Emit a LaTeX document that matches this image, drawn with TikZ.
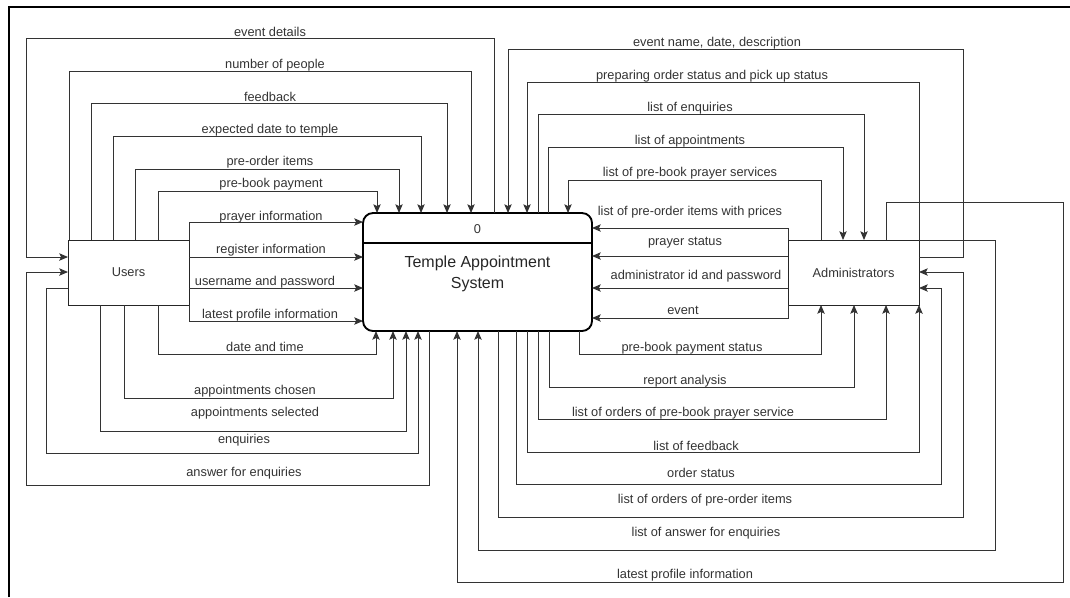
\documentclass[tikz,border=0pt]{standalone}
\usepackage{fontspec}
\setmainfont{Liberation Sans}
\usetikzlibrary{arrows.meta}
\begin{document}
\begin{tikzpicture}[x=0.75pt,y=-0.75pt,
  link/.style={draw=black!80, line width=0.75pt},
  flow/.style={link, -{Stealth[length=6.5pt,width=5.5pt,inset=1.3pt]}},
  lbl/.style={font=\fontsize{9.6}{11}\selectfont, text=black!80, inner sep=0pt},
  entity/.style={draw=black!85, line width=0.75pt, minimum height=48.75pt, inner sep=0pt, outer sep=0pt,
                 font=\fontsize{9.6}{11}\selectfont, text=black!80},
  process/.style={draw=black, line width=1.4pt, rounded corners=7.5pt, minimum width=171.75pt,
                  minimum height=88.5pt, inner sep=0pt, outer sep=0pt}]
\useasboundingbox (0,0) rectangle (1070,597);
% page frame
\draw[line width=1pt] (9,597) -- (9,7) -- (1070,7);

% external entities and the process
\node[entity, minimum width=90.75pt] (users) at (128.5,272.5) {Users};
\node[entity, minimum width=98.25pt] (admin) at (853.5,272.5) {Administrators};
\node[process] (proc) at (477.5,272) {};
\draw[line width=1.4pt] (proc.west |- 0,243) -- (proc.east |- 0,243);
\node[lbl] (pid) at (477.5,229) {0};
\node[font=\fontsize{12}{15.8}\selectfont, align=center, text=black!85, inner sep=0pt] (ptitle) at (477.5,273.5) {Temple Appointment\\System};

% ---- Users side, over the top ----
\draw[flow] (proc.north -| 494,0) |- (26,38) |- (users.west |- 0,257);
\draw[flow] (users.north -| 69,0) |- (471,71) -- (proc.north -| 471,0);
\draw[flow] (users.north -| 91,0) |- (447,103) -- (proc.north -| 447,0);
\draw[flow] (users.north -| 113,0) |- (421,136) -- (proc.north -| 421,0);
\draw[flow] (users.north -| 135,0) |- (399,169) -- (proc.north -| 399,0);
\draw[flow] (users.north -| 158,0) |- (377,191) -- (proc.north -| 377,0);

\node[lbl] (l1) at (270,32) {event details};
\node[lbl] (l2) at (275,65) {number of people};
\node[lbl] (l3) at (270,97) {feedback};
\node[lbl] (l4) at (270,130) {expected date to temple};
\node[lbl] (l5) at (270,162) {pre-order items};
\node[lbl] (l6) at (271,184) {pre-book payment};

% ---- Users side, straight across ----
\draw[flow] (users.north east) |- (proc.west |- 0,222);
\draw[flow] (users.east |- 0,257) -- (proc.west |- 0,257);
\draw[flow] (users.east |- 0,288) -- (proc.west |- 0,288);
\draw[flow] (users.south east) |- (proc.west |- 0,321);

\node[lbl] (l7) at (271,217) {prayer information};
\node[lbl] (l8) at (271,250) {register information};
\node[lbl] (l9) at (265,282) {username and password};
\node[lbl] (l10) at (270,315) {latest profile information};

% ---- Users side, underneath ----
\draw[flow] (users.south -| 158,0) |- (376,354) -- (proc.south -| 376,0);
\draw[flow] (users.south -| 124,0) |- (393,398) -- (proc.south -| 393,0);
\draw[flow] (users.south -| 100,0) |- (406,431) -- (proc.south -| 406,0);
\draw[flow] (users.west |- 0,288) -| (46,453) -| (proc.south -| 418,0);
\draw[flow] (proc.south -| 429,0) |- (26,485) |- (users.west |- 0,272);

\node[lbl] (l11) at (265,347) {date and time};
\node[lbl] (l12) at (255,391) {appointments chosen};
\node[lbl] (l13) at (255,413) {appointments selected};
\node[lbl] (l14) at (244,440) {enquiries};
\node[lbl] (l15) at (244,473) {answer for enquiries};

% ---- Administrators side, over the top ----
\draw[flow] (admin.east |- 0,257) -| (963,49) -| (proc.north -| 508,0);
\draw[flow] (admin.north east) |- (527,82) -- (proc.north -| 527,0);
\draw[flow] (proc.north -| 538,0) |- (864,114) -- (admin.north -| 864,0);
\draw[flow] (proc.north -| 548,0) |- (843,147) -- (admin.north -| 843,0);
\draw[flow] (admin.north -| 821,0) |- (568,180) -- (proc.north -| 568,0);

\node[lbl] (r1) at (717,43) {event name, date, description};
\node[lbl] (r2) at (712,76) {preparing order status and pick up status};
\node[lbl] (r3) at (690,108) {list of enquiries};
\node[lbl] (r4) at (690,141) {list of appointments};
\node[lbl] (r5) at (690,173) {list of pre-book prayer services};

% ---- Administrators side, straight across ----
\draw[flow] (admin.north west) |- (proc.east |- 0,228);
\draw[flow] (admin.west |- 0,256) -- (proc.east |- 0,256);
\draw[flow] (admin.west |- 0,288) -- (proc.east |- 0,288);
\draw[flow] (admin.south west) |- (proc.east |- 0,318);

\node[lbl] (r6) at (690,212) {list of pre-order items with prices};
\node[lbl] (r7) at (685,243) {prayer status};
\node[lbl] (r8) at (696,276) {administrator id and password};
\node[lbl] (r9) at (683,310) {event};

% ---- Administrators side, underneath ----
\draw[flow] (proc.south -| 579,0) |- (821,354) -- (admin.south -| 821,0);
\draw[flow] (proc.south -| 549,0) |- (854,387) -- (admin.south -| 854,0);
\draw[flow] (proc.south -| 538,0) |- (886,419) -- (admin.south -| 886,0);
\draw[flow] (proc.south -| 527,0) |- (919,452) -- (admin.south east);
\draw[flow] (proc.south -| 516,0) |- (941,484) |- (admin.east |- 0,288);
\draw[flow] (proc.south -| 498,0) |- (963,517) |- (admin.east |- 0,272);
\draw[flow] (admin.north east) -| (995,550) -| (proc.south -| 478,0);
\draw[flow] (admin.north -| 886,0) |- (1063,202) |- (457,582) -- (proc.south -| 457,0);

\node[lbl] (r10) at (692,348) {pre-book payment status};
\node[lbl] (r11) at (685,381) {report analysis};
\node[lbl] (r12) at (683,413) {list of orders of pre-book prayer service};
\node[lbl] (r13) at (696,446) {list of feedback};
\node[lbl] (r14) at (701,473) {order status};
\node[lbl] (r15) at (705,500) {list of orders of pre-order items};
\node[lbl] (r16) at (706,533) {list of answer for enquiries};
\node[lbl] (r17) at (685,575) {latest profile information};
\end{tikzpicture}
\end{document}
